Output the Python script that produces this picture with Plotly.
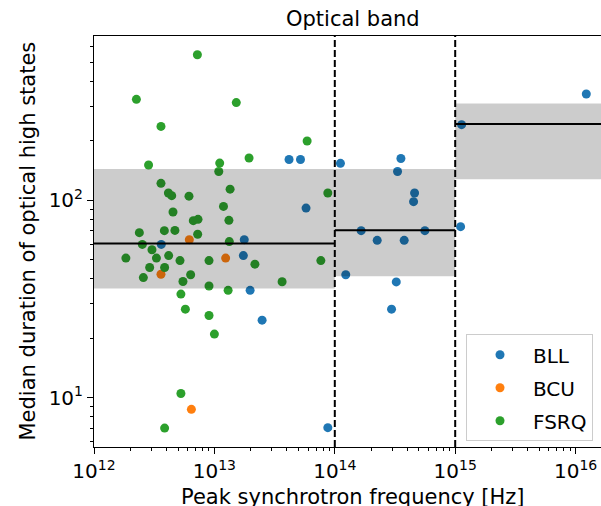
import plotly.graph_objects as go

# ---- data ----
bll_nu = [4.17e13, 5.19e13, 1.114e14, 5.77e13, 3.62e12, 1.77e13, 1.74e13, 1.233e14,
          1.98e13, 2.49e13, 8.75e13, 3.54e14, 3.32e14, 4.60e14, 4.51e14, 1.656e14,
          2.25e14, 3.77e14, 5.60e14, 1.109e15, 1.13e15, 1.227e16, 3.24e14, 2.96e14]
bll_dur = [161, 161, 154, 91.4, 59.8, 63.2, 52.5, 42.0,
           35.0, 24.7, 7.05, 163, 140, 109, 98.5, 70.2,
           62.7, 62.7, 70.2, 73.6, 242, 346, 38.6, 28.1]

bcu_nu = [6.19e12, 1.24e13, 3.6e12, 6.44e12]
bcu_dur = [63.2, 51.0, 42.2, 8.73]

fsrq_nu = [7.22e12, 2.25e12, 1.52e13, 3.6e12, 5.89e13, 1.94e13, 2.84e12, 1.107e13,
           1.087e13, 3.6e12, 4.15e12, 4.42e12, 6.15e12, 1.35e13, 8.75e13, 4.53e12,
           1.19e13, 6.68e12, 7.31e12, 1.32e13, 2.38e12, 3.84e12, 4.70e12, 7.26e12,
           2.52e12, 1.33e13, 3.03e12, 1.84e12, 3.30e12, 4.17e12, 5.18e12, 9.02e12,
           2.17e13, 7.66e13, 2.90e12, 3.86e12, 2.57e12, 6.35e12, 5.48e12, 9.02e12,
           1.30e13, 3.65e13, 5.27e12, 5.74e12, 9.02e12, 1.0e13, 5.27e12, 3.86e12]
fsrq_dur = [547, 325, 313, 237, 200, 164, 151, 154.5,
            140, 122, 109, 105.6, 105, 114, 109, 87.3,
            93.2, 78.9, 80.1, 79.2, 68.6, 70.2, 70.4, 67.3,
            59.8, 61.8, 56.2, 51.0, 51.0, 52.5, 49.5, 49.5,
            47.5, 49.5, 45.7, 45.7, 40.6, 42.0, 38.8, 36.8,
            35.0, 38.7, 33.5, 28.1, 26.1, 21.0, 10.5, 7.01]

# frequency bins and their statistics
bin_edges = [1e12, 1e14, 1e15, 2e16]
bin_median = [60.5, 70.5, 244]
bin_low = [35.8, 41.3, 128]
bin_high = [144, 144, 310]

boundaries = [1e14, 1e15]
x_decades = [12, 13, 14, 15, 16]
y_decades = [0, 1, 2]
x_range_log = [12, 16.211]
y_range_log = [0.750, 2.833]

x_ticks = [10.0 ** d for d in x_decades]
x_ticktext = ["10<sup>%d</sup>" % d for d in x_decades]
y_ticks = [10.0 ** d for d in y_decades[1:]]
y_ticktext = ["10<sup>%d</sup>" % d for d in y_decades[1:]]
x_minor = [m * 10.0 ** d for d in x_decades for m in range(2, 10)]
y_minor = [m * 10.0 ** d for d in y_decades for m in range(2, 10)]

# ---- figure ----
FONT = "DejaVu Sans"
fig = go.Figure()

series = [("BLL", bll_nu, bll_dur, "#1f77b4"),
          ("BCU", bcu_nu, bcu_dur, "#ff7f0e"),
          ("FSRQ", fsrq_nu, fsrq_dur, "#2ca02c")]
for name, xs, ys, col in series:
    fig.add_trace(go.Scatter(
        x=xs, y=ys, mode="markers", name=name, legendgroup=name,
        marker=dict(color=col, size=9, line=dict(width=0)),
    ))

shapes = []
for i in range(len(bin_median)):
    x0, x1 = bin_edges[i], bin_edges[i + 1]
    shapes.append(dict(type="rect", xref="x", yref="y", x0=x0, x1=x1,
                       y0=bin_low[i], y1=bin_high[i], layer="above",
                       fillcolor="rgba(0,0,0,0.2)", line=dict(width=0)))
    shapes.append(dict(type="line", xref="x", yref="y", x0=x0, x1=x1,
                       y0=bin_median[i], y1=bin_median[i], layer="above",
                       line=dict(color="black", width=2)))
for b in boundaries:
    shapes.append(dict(type="line", xref="x", yref="paper", x0=b, x1=b,
                       y0=0, y1=1, layer="above",
                       line=dict(color="black", width=2, dash="7px,3px")))

L, T, B = 94, 36, 59
W, H = 601, 506
plot_w = W - L
plot_h = H - T - B
title_x = (352.5 - L) / plot_w

fig.update_layout(
    width=W, height=H,
    margin=dict(l=L, r=0, t=T, b=B, pad=0, autoexpand=False),
    plot_bgcolor="white", paper_bgcolor="white",
    font=dict(family=FONT, size=21, color="black"),
    shapes=shapes,
    showlegend=True,
    legend=dict(x=(466 - L) / plot_w, y=(446.7 - 334) / plot_h,
                xanchor="left", yanchor="top",
                bgcolor="rgba(255,255,255,0.8)", bordercolor="#cccccc",
                borderwidth=1, font=dict(family=FONT, size=20),
                itemwidth=56,
                traceorder="grouped", tracegroupgap=4),
    annotations=[
        dict(text="Optical band", xref="paper", yref="paper", x=title_x, y=1,
             xanchor="center", yanchor="bottom", yshift=3, showarrow=False,
             font=dict(family=FONT, size=21)),
        dict(text="Peak synchrotron frequency [Hz]", xref="paper", yref="paper",
             x=title_x, y=-(497 - (H - B)) / plot_h, xanchor="center",
             yanchor="middle", showarrow=False, font=dict(family=FONT, size=21)),
        dict(text="Median duration of optical high states", xref="paper",
             yref="paper", x=(27 - L) / plot_w, y=0.5, xanchor="center",
             yanchor="middle", textangle=-90, showarrow=False,
             font=dict(family=FONT, size=21)),
    ],
)

axis_common = dict(type="log", showgrid=False, zeroline=False, showline=True,
                   linecolor="black", linewidth=1, ticks="outside", ticklen=6,
                   tickwidth=1, tickcolor="black", automargin=False,
                   tickfont=dict(family=FONT, size=20))
fig.update_xaxes(range=x_range_log, tickmode="array", tickvals=x_ticks,
                 ticktext=x_ticktext, mirror=True,
                 minor=dict(tickmode="array", tickvals=x_minor, ticks="outside",
                            ticklen=3, tickwidth=1, tickcolor="black",
                            showgrid=False),
                 **axis_common)
fig.update_yaxes(range=y_range_log, tickmode="array", tickvals=y_ticks,
                 ticktext=y_ticktext, mirror=False,
                 minor=dict(tickmode="array", tickvals=y_minor, ticks="outside",
                            ticklen=3, tickwidth=1, tickcolor="black",
                            showgrid=False),
                 **axis_common)

# remove the browser's default page margin so the figure sits at (0, 0)
fig.write_html("out.html",
               config={"displayModeBar": False},
               post_script="document.body.style.margin='0';"
                           "document.body.style.overflow='hidden';")
